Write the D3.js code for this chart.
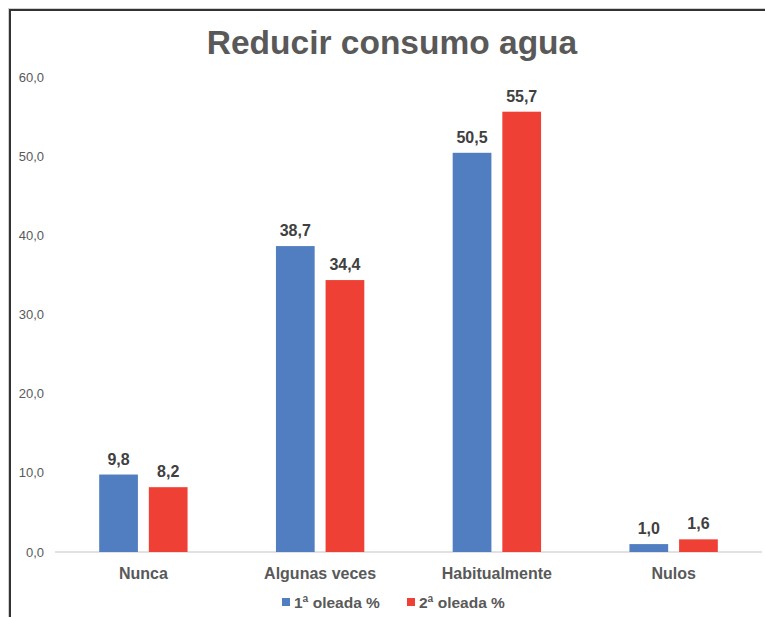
<!DOCTYPE html>
<html>
<head>
<meta charset="utf-8">
<script src="https://cdn.jsdelivr.net/npm/d3@7"></script>
<style>
  body { margin: 0; background: #fff; }
  svg { display: block; font-family: "Liberation Sans", Arial, sans-serif; }
</style>
</head>
<body>
<div id="chart"></div>
<script>
"use strict";

const categories = ["Nunca", "Algunas veces", "Habitualmente", "Nulos"];
const seriesNames = ["1ª oleada %", "2ª oleada %"];
const wave1 = [9.8, 38.7, 50.5, 1.0];
const wave2 = [8.2, 34.4, 55.7, 1.6];
const yTicks = [0, 10, 20, 30, 40, 50, 60];
const colors = ["#517ec1", "#ee4034"];

const W = 765, H = 617;
const svg = d3.select("#chart").append("svg").attr("width", W).attr("height", H);

// frame (cropped at right and bottom like the screenshot)
svg.append("rect").attr("x", 8.5).attr("y", 8.5).attr("width", 800).attr("height", 700)
  .attr("fill", "none").attr("stroke", "#d0d0d0").attr("stroke-width", 1);
svg.append("rect").attr("x", 10).attr("y", 10).attr("width", 800).attr("height", 700)
  .attr("fill", "none").attr("stroke", "#333").attr("stroke-width", 2);

svg.append("text")
  .attr("x", 392).attr("y", 54)
  .attr("text-anchor", "middle")
  .attr("font-size", 33.5).attr("font-weight", "bold").attr("fill", "#595959")
  .text("Reducir consumo agua");

const x0 = d3.scaleBand().domain(categories).range([55, 762]).paddingInner(0.5).paddingOuter(0.25);
const x1 = d3.scaleBand().domain([0, 1]).range([0, x0.bandwidth()]).paddingInner(0.22);
const y = d3.scaleLinear().domain([0, 60]).range([552, 77.7]);

// y axis labels
svg.append("g").selectAll("text").data(yTicks).enter().append("text")
  .attr("x", 44).attr("y", (d) => y(d) + 4.5)
  .attr("text-anchor", "end")
  .attr("font-size", 13).attr("fill", "#595959")
  .text((d) => d.toFixed(1).replace(".", ","));

// baseline
svg.append("line")
  .attr("x1", 55).attr("x2", 762).attr("y1", y(0)).attr("y2", y(0))
  .attr("stroke", "#d9d9d9").attr("stroke-width", 1.3);

const series = [wave1, wave2];
series.forEach((vals, si) => {
  const g = svg.append("g");
  g.selectAll("rect").data(vals).enter().append("rect")
    .attr("x", (d, i) => x0(categories[i]) + x1(si))
    .attr("y", (d) => y(d))
    .attr("width", x1.bandwidth())
    .attr("height", (d) => y(0) - y(d))
    .attr("fill", colors[si]);
  g.selectAll("text").data(vals).enter().append("text")
    .attr("x", (d, i) => x0(categories[i]) + x1(si) + x1.bandwidth() / 2)
    .attr("y", (d) => y(d) - 10)
    .attr("text-anchor", "middle")
    .attr("font-size", 16).attr("font-weight", "bold").attr("fill", "#404040")
    .text((d) => d.toFixed(1).replace(".", ","));
});

// category labels
svg.append("g").selectAll("text").data(categories).enter().append("text")
  .attr("x", (d) => x0(d) + x0.bandwidth() / 2)
  .attr("y", 579)
  .attr("text-anchor", "middle")
  .attr("font-size", 16).attr("font-weight", "bold").attr("fill", "#595959")
  .text((d) => d);

// legend
const legendX = [282, 407];
seriesNames.forEach((name, i) => {
  svg.append("rect").attr("x", legendX[i]).attr("y", 598).attr("width", 8).attr("height", 8)
    .attr("fill", colors[i]);
  svg.append("text").attr("x", legendX[i] + 12).attr("y", 608)
    .attr("font-size", 15.5).attr("font-weight", "bold").attr("fill", "#595959")
    .text(name);
});
</script>
</body>
</html>
